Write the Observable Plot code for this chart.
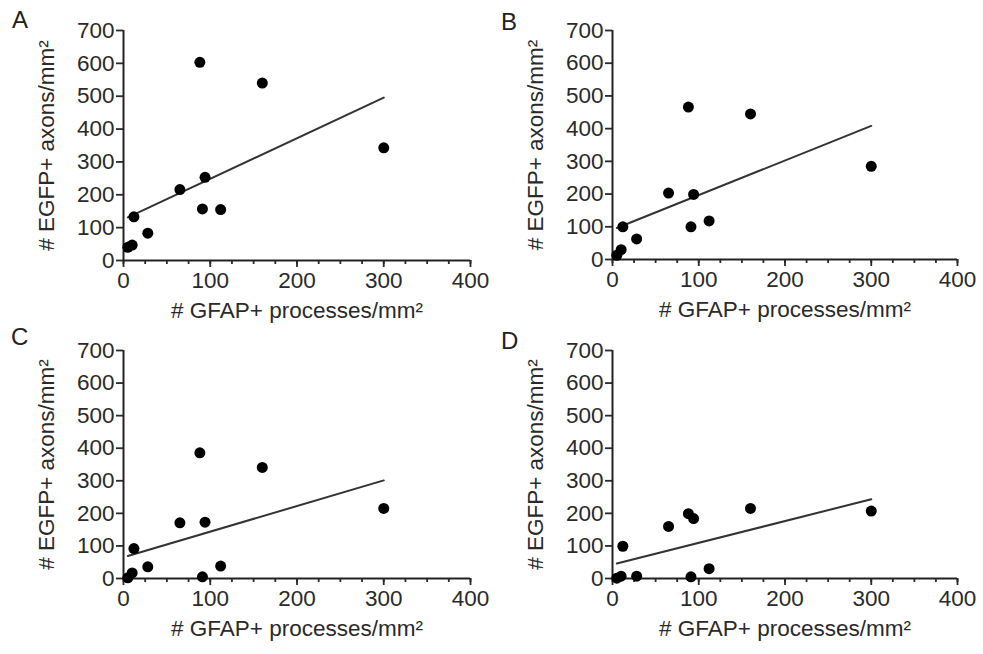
<!DOCTYPE html>
<html>
<head>
<meta charset="utf-8">
<script src="https://cdn.jsdelivr.net/npm/d3@7"></script>
<script src="https://cdn.jsdelivr.net/npm/@observablehq/plot@0.6"></script>
<style>
  html, body { margin: 0; padding: 0; background: #fff; }
  #root { position: relative; width: 983px; height: 654px; overflow: hidden; font-family: "Liberation Sans", Arial, sans-serif; }
  .panel { position: absolute; }
  .letter { position: absolute; font-size: 24px; color: #222; line-height: 1; }
</style>
</head>
<body>
<div id="root"></div>
<script>
// GFAP+ processes/mm² (shared x values)
const gfap = [5, 10, 12, 28, 65, 88, 91, 94, 112, 160, 300];
// EGFP+ axons/mm² per panel
const egfpA = [40, 47, 133, 83, 216, 603, 157, 253, 155, 540, 343];
const egfpB = [13, 30, 100, 63, 203, 466, 100, 199, 118, 445, 285];
const egfpC = [2, 17, 92, 36, 171, 386, 5, 173, 38, 341, 215];
const egfpD = [1, 7, 99, 7, 160, 199, 5, 184, 30, 215, 207];
const panelLetters = ["A", "B", "C", "D"];
const xMajorTicks = [0, 100, 200, 300, 400];
const xMinorTicks = d3.range(0, 401, 25);
const yTicks = [0, 100, 200, 300, 400, 500, 600, 700];
const xLabel = "# GFAP+ processes/mm²";
const yLabel = "# EGFP+ axons/mm²";

const panels = [
  {letter: panelLetters[0], y: egfpA, left: 0,   top: 0,   width: 490, height: 330, ml: 123, mr: 20, mt: 30, mb: 70, lx: 12, ly: 8},
  {letter: panelLetters[1], y: egfpB, left: 490, top: 0,   width: 493, height: 330, ml: 122, mr: 26, mt: 30, mb: 71, lx: 501, ly: 10},
  {letter: panelLetters[2], y: egfpC, left: 0,   top: 320, width: 490, height: 334, ml: 123, mr: 20, mt: 30, mb: 76, lx: 11, ly: 325},
  {letter: panelLetters[3], y: egfpD, left: 490, top: 320, width: 493, height: 334, ml: 122, mr: 26, mt: 30, mb: 76, lx: 501, ly: 329}
];

const root = document.getElementById("root");
for (const p of panels) {
  const data = gfap.map((x, i) => ({x, y: p.y[i]}));
  const chart = Plot.plot({
    width: p.width,
    height: p.height,
    marginLeft: p.ml,
    marginRight: p.mr,
    marginTop: p.mt,
    marginBottom: p.mb,
    style: {fontFamily: "'Liberation Sans', Arial, sans-serif", fontSize: "22.5px", color: "#2a2a2a", background: "transparent", overflow: "visible"},
    x: {domain: [0, 400]},
    y: {domain: [0, 700]},
    marks: [
      Plot.axisX({ticks: xMinorTicks, tickSize: 4, strokeWidth: 1.8, tickFormat: () => "", label: null}),
      Plot.axisX({ticks: xMajorTicks, tickSize: 7, tickPadding: 5, strokeWidth: 1.8, label: xLabel, labelAnchor: "center", labelOffset: 57, labelArrow: "none"}),
      Plot.axisY({ticks: yTicks, tickSize: 7, tickPadding: 2, strokeWidth: 1.8, label: yLabel, labelAnchor: "center", labelOffset: 85, labelArrow: "none"}),
      Plot.ruleX([0], {y1: 0, y2: 700, strokeWidth: 2, stroke: "#222"}),
      Plot.ruleY([0], {x1: 0, x2: 400, strokeWidth: 2, stroke: "#222"}),
      Plot.linearRegressionY(data, {x: "x", y: "y", ci: 0, stroke: "#333", strokeWidth: 2}),
      Plot.dot(data, {x: "x", y: "y", r: 5.5, fill: "#000", stroke: "none"})
    ]
  });
  chart.classList.add("panel");
  chart.style.left = p.left + "px";
  chart.style.top = p.top + "px";
  chart.style.position = "absolute";
  root.appendChild(chart);
  const lab = document.createElement("div");
  lab.className = "letter";
  lab.textContent = p.letter;
  lab.style.left = p.lx + "px";
  lab.style.top = p.ly + "px";
  root.appendChild(lab);
}
</script>
</body>
</html>
